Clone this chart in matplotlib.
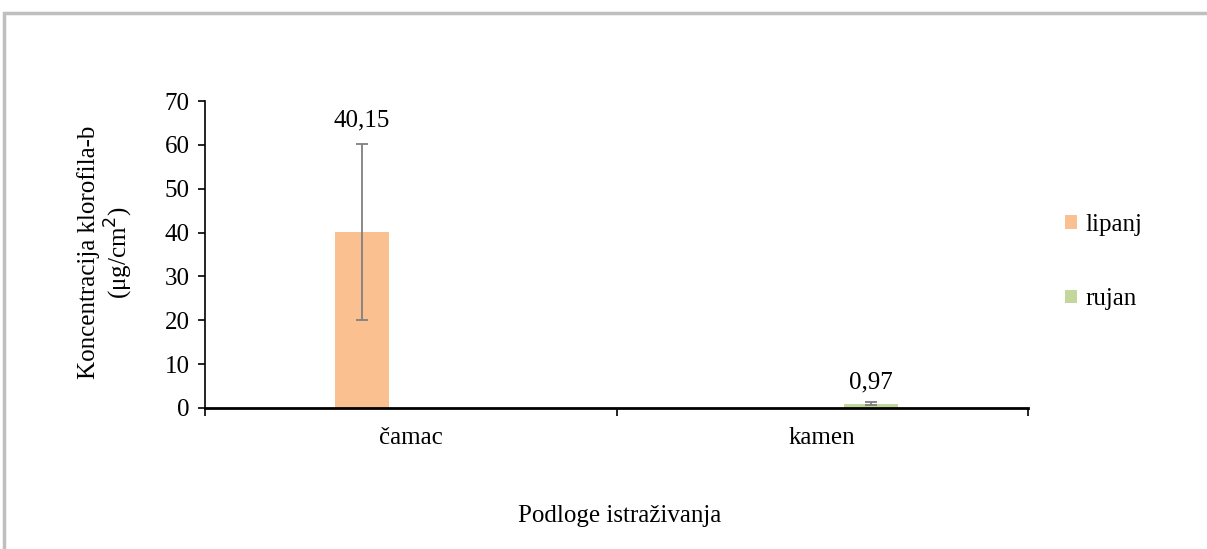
import numpy as np
import matplotlib
matplotlib.use("Agg")
import matplotlib.pyplot as plt
from matplotlib.patches import Rectangle

categories = ["čamac", "kamen"]
series_names = ["lipanj", "rujan"]
lipanj = [40.15, np.nan]
rujan = [np.nan, 0.97]
lipanj_err = [20.1, np.nan]
rujan_err = [np.nan, 0.3]
labels_lipanj = ["40,15", ""]
labels_rujan = ["", "0,97"]
colors = ["#FAC090", "#C3D69B"]

plt.rcParams['font.family'] = ['Liberation Serif', 'DejaVu Serif']
FS = 18

fig = plt.figure(figsize=(12.07, 5.49), dpi=100)
fig.patches.append(Rectangle((4/1207, -0.1), 1.2, 1 - 13/549 + 0.1, transform=fig.transFigure,
                             fill=False, edgecolor="#BFBFBF", linewidth=2.5, zorder=0))

ax = fig.add_axes([205/1207, 1 - 408/549, 823/1207, 307/549])
x = np.arange(len(categories))
w = 0.131
off = 0.119
ax.bar(x - off, lipanj, w, color=colors[0], label=series_names[0])
ax.bar(x + off, rujan, w, color=colors[1], label=series_names[1])
ax.errorbar(x - off, lipanj, yerr=lipanj_err, fmt="none", ecolor="#808080", elinewidth=1.3, capsize=4.5, capthick=1.3)
ax.errorbar(x + off, rujan, yerr=rujan_err, fmt="none", ecolor="#808080", elinewidth=1.3, capsize=4.5, capthick=1.3)
for xi, v, e, lab in zip(x - off, lipanj, lipanj_err, labels_lipanj):
    if lab:
        ax.text(xi, v + e + 2.9, lab, ha="center", va="bottom", fontsize=FS)
for xi, v, e, lab in zip(x + off, rujan, rujan_err, labels_rujan):
    if lab:
        ax.text(xi, v + 2.3, lab, ha="center", va="bottom", fontsize=FS)

ax.set_xlim(-0.5, 1.5)
ax.set_ylim(0, 70)
ax.set_yticks(range(0, 71, 10))
ax.set_xticks(x)
ax.set_xticklabels(categories, fontsize=FS)
ax.set_xticks([-0.5, 0.5, 1.5], minor=True)
ax.tick_params(axis="x", which="major", length=0, pad=14)
ax.tick_params(axis="x", which="minor", length=6, width=1.2, direction="out")
ax.tick_params(axis="y", labelsize=FS, length=5, width=1.2, direction="out", pad=6)
for s in ["top", "right"]:
    ax.spines[s].set_visible(False)
ax.spines["left"].set_linewidth(1.2)
ax.spines["bottom"].set_linewidth(2)

fig.text(106/1207, 1 - 252/549, "Koncentracija klorofila-b\n(μg/cm$^2$)", rotation=90,
         ha="center", va="center", fontsize=FS, linespacing=1.1)
fig.text(620/1207, 1 - 516/549, "Podloge istraživanja", ha="center", va="center", fontsize=FS)

ax.legend(loc="center left", bbox_to_anchor=(1.018, 0.475), frameon=False, fontsize=FS,
          handlelength=0.45, handleheight=0.45, handletextpad=0.35, labelspacing=2.1)

fig.savefig("out.png", dpi=100)
